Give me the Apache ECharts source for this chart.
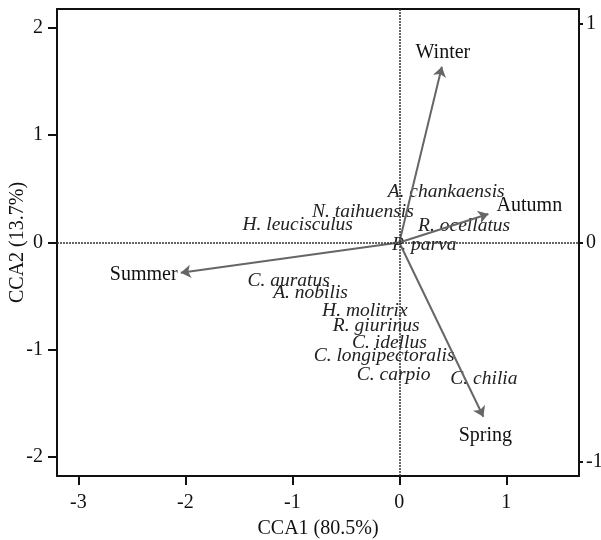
<!DOCTYPE html>
<html>
<head>
<meta charset="utf-8">
<script src="https://cdn.jsdelivr.net/npm/echarts@6/dist/echarts.min.js"></script>
<style>
  html, body { margin: 0; padding: 0; background: #fff; }
  #chart { width: 601px; height: 540px; }
</style>
</head>
<body>
<div id="chart"></div>
<script>
// Species scores on the first two CCA axes
const speciesNames = [
  'A. chankaensis', 'N. taihuensis', 'H. leucisculus', 'R. ocellatus', 'P. parva',
  'C. auratus', 'A. nobilis', 'H. molitrix', 'R. giurinus', 'C. idellus',
  'C. longipectoralis', 'C. carpio', 'C. chilia'
];
const speciesCCA1 = [0.438, -0.340, -0.950, 0.606, 0.233, -1.035, -0.830, -0.322, -0.216, -0.093, -0.142, -0.053, 0.791];
const speciesCCA2 = [0.471, 0.287, 0.168, 0.156, -0.019, -0.357, -0.473, -0.634, -0.778, -0.939, -1.053, -1.230, -1.270];

// Seasonal (environmental) biplot arrows
const seasonNames = ['Winter', 'Autumn', 'Summer', 'Spring'];
const seasonCCA1 = [0.398, 0.833, -2.043, 0.786];
const seasonCCA2 = [1.638, 0.266, -0.281, -1.623];

// Axis ticks
const xTicks = [-3, -2, -1, 0, 1];
const yTicks = [-2, -1, 0, 1, 2];
const yRightTicks = [-1, 0, 1];

const FONT = '"Liberation Serif", "Times New Roman", serif';
const INK = '#111';

const chart = echarts.init(document.getElementById('chart'), null, { renderer: 'canvas' });

// Label offsets (px) for the season names relative to each arrow tip
const seasonLabelOffset = {
  Winter: [1, -14],
  Autumn: [41, -8],
  Summer: [-37, 2],
  Spring: [2, 19]
};

const option = {
  animation: false,
  backgroundColor: '#fff',
  grid: { left: 57, right: 22, top: 9, bottom: 64, containLabel: false, outerBoundsMode: 'none' },
  xAxis: [
    {
      type: 'value', position: 'bottom', min: -3.2, max: 1.68,
      name: 'CCA1 (80.5%)', nameLocation: 'middle', nameGap: 43, nameMoveOverlap: false,
      nameTextStyle: { fontFamily: FONT, fontSize: 20, color: INK },
      axisLine: { show: true, onZero: false, lineStyle: { color: '#111', width: 2 } },
      axisTick: { show: true, customValues: xTicks, length: 9, lineStyle: { color: '#111', width: 2 } },
      axisLabel: { customValues: xTicks, margin: 17, fontFamily: FONT, fontSize: 20, color: INK },
      splitLine: { show: false }
    },
    {
      type: 'value', position: 'top', min: -3.2, max: 1.68,
      axisLine: { show: true, onZero: false, lineStyle: { color: '#111', width: 2 } },
      axisTick: { show: false }, axisLabel: { show: false }, splitLine: { show: false }
    }
  ],
  yAxis: [
    {
      type: 'value', position: 'left', min: -2.175, max: 2.175,
      name: 'CCA2 (13.7%)', nameLocation: 'middle', nameGap: 29, nameMoveOverlap: false,
      nameTextStyle: { fontFamily: FONT, fontSize: 20, color: INK },
      axisLine: { show: true, onZero: false, lineStyle: { color: '#111', width: 2 } },
      axisTick: { show: true, customValues: yTicks, length: 9, lineStyle: { color: '#111', width: 2 } },
      axisLabel: { customValues: yTicks, margin: 14, fontFamily: FONT, fontSize: 20, color: INK },
      splitLine: { show: false }
    },
    {
      type: 'value', position: 'right', min: -1.065, max: 1.065,
      axisLine: { show: true, onZero: false, lineStyle: { color: '#111', width: 2 } },
      axisTick: { show: true, customValues: yRightTicks, length: 4, lineStyle: { color: '#111', width: 2 } },
      axisLabel: { customValues: yRightTicks, margin: 7, fontFamily: FONT, fontSize: 20, color: INK },
      splitLine: { show: false }
    }
  ],
  series: [
    {
      // dotted zero reference lines
      type: 'scatter', xAxisIndex: 0, yAxisIndex: 0, data: [], silent: true,
      markLine: {
        silent: true, symbol: ['none', 'none'], animation: false,
        label: { show: false },
        lineStyle: { color: '#333', width: 1.5, type: [2, 1] },
        data: [{ xAxis: 0 }, { yAxis: 0 }]
      },
      z: 1
    },
    {
      // species names placed at their scores
      type: 'scatter', xAxisIndex: 0, yAxisIndex: 0, symbolSize: 0, z: 2,
      itemStyle: { opacity: 1 },
      data: speciesNames.map((n, i) => ({ name: n, value: [speciesCCA1[i], speciesCCA2[i]] })),
      label: {
        show: true, position: 'inside', formatter: p => p.name,
        fontFamily: FONT, fontStyle: 'italic', fontSize: 19.5, color: '#222'
      }
    },
    {
      // season arrows from the origin
      type: 'lines', coordinateSystem: 'cartesian2d', xAxisIndex: 0, yAxisIndex: 0, z: 3,
      symbol: ['none', 'arrow'], symbolSize: [7, 10],
      lineStyle: { color: '#666', width: 2, opacity: 1, curveness: 0 },
      data: seasonNames.map((n, i) => ({ name: n, coords: [[0, 0], [seasonCCA1[i], seasonCCA2[i]]] }))
    },
    {
      // season names near arrow tips
      type: 'scatter', xAxisIndex: 0, yAxisIndex: 0, symbolSize: 0, z: 4,
      itemStyle: { opacity: 1 },
      data: seasonNames.map((n, i) => ({
        name: n, value: [seasonCCA1[i], seasonCCA2[i]],
        label: { offset: seasonLabelOffset[n] }
      })),
      label: {
        show: true, position: 'inside', formatter: p => p.name,
        fontFamily: FONT, fontSize: 20, color: '#111'
      }
    }
  ]
};

chart.setOption(option);
</script>
</body>
</html>
